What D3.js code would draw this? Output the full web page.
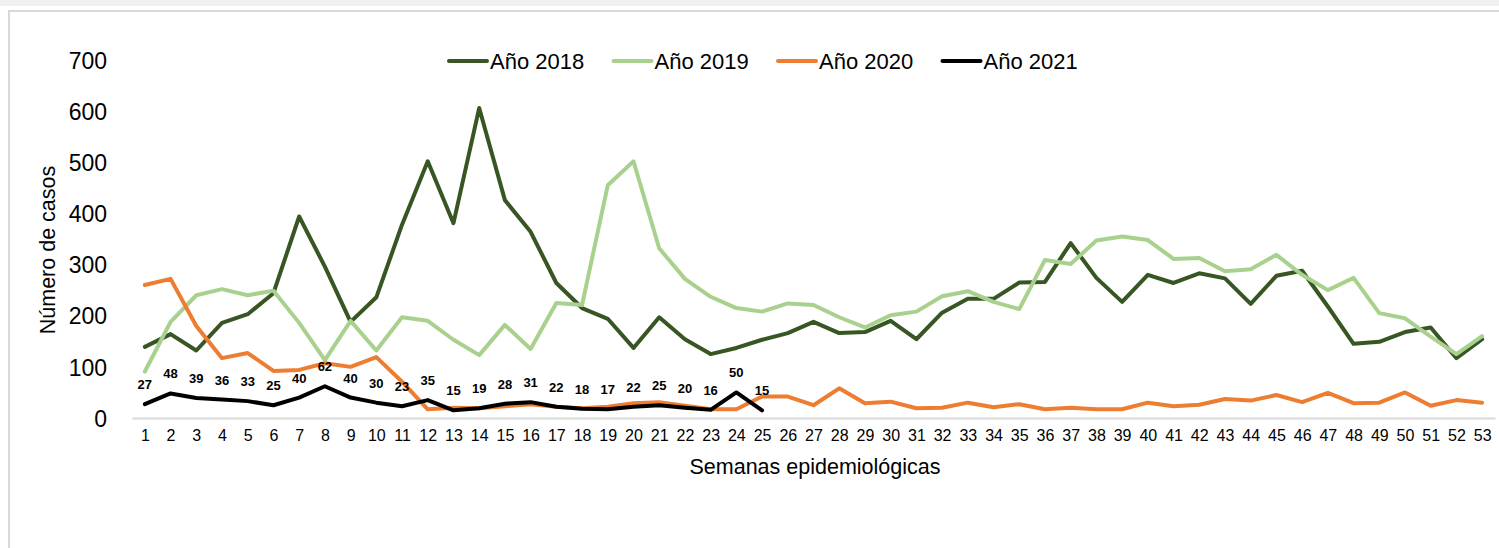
<!DOCTYPE html>
<html><head>
<meta charset="utf-8">
<title>Casos por semana epidemiológica</title>
<script src="https://d3js.org/d3.v7.min.js"></script>
<style>
  body { margin: 0; background: #fff; font-family: "Liberation Sans", Arial, sans-serif; }
  .y.axis text { font-size: 23px; fill: #000; }
  .x.axis text { font-size: 16px; fill: #000; }
  .axis .tick line { display: none; }
  .x.axis .domain { stroke: #d9d9d9; stroke-width: 2px; }
  .y.axis .domain { display: none; }
  .series { fill: none; stroke-width: 4px; stroke-linejoin: round; stroke-linecap: round; }
  .label { font-size: 13px; font-weight: bold; text-anchor: middle; fill: #000; }
  .legend text { font-size: 22px; fill: #000; }
  .title { font-size: 21.5px; fill: #000; text-anchor: middle; }
</style>
</head>
<body>
<svg id="chart" width="1499" height="548"></svg>
<script>
  // data
  const weeks = d3.range(1, 54);
  const yTicks = [0, 100, 200, 300, 400, 500, 600, 700];
  const seriesNames = ["Año 2018", "Año 2019", "Año 2020", "Año 2021"];
  const seriesColors = ["#375623", "#a9d18e", "#ed7d31", "#000000"];

  const y2018 = [139, 164, 132, 186, 203, 244, 394, 296, 188, 236, 378, 502, 381, 606, 426, 364, 264, 215, 194, 137,
                 197, 154, 125, 137, 153, 166, 188, 166, 168, 190, 154, 206, 233, 233, 265, 266, 342, 274, 227, 280,
                 264, 283, 273, 223, 278, 288, 218, 145, 149, 168, 177, 117, 154];
  const y2019 = [91, 188, 240, 252, 240, 249, 186, 113, 190, 132, 197, 190, 153, 123, 182, 135, 225, 221, 455, 502,
                 332, 272, 237, 215, 208, 224, 221, 197, 177, 201, 208, 238, 248, 227, 213, 309, 301, 347, 355, 348,
                 311, 313, 287, 291, 319, 280, 250, 274, 205, 195, 159, 125, 160];
  const y2020 = [260, 272, 180, 117, 127, 92, 94, 107, 100, 119, 71, 17, 20, 19, 23, 27, 22, 19, 22, 29,
                 31, 24, 17, 17, 42, 42, 25, 58, 29, 32, 19, 20, 30, 21, 27, 17, 20, 17, 17, 30,
                 23, 26, 37, 34, 45, 31, 49, 29, 30, 50, 24, 35, 30];
  const y2021 = [27, 48, 39, 36, 33, 25, 40, 62, 40, 30, 23, 35, 15, 19, 28, 31, 22, 18, 17, 22, 25, 20, 16, 50, 15];

  const allSeries = [y2018, y2019, y2020, y2021];

  const svg = d3.select("svg#chart");

  // page frame
  svg.append("rect").attr("x", 0).attr("y", 0).attr("width", 1499).attr("height", 6).attr("fill", "#f0f0f0");
  svg.append("path").attr("d", "M9,548 V11 H1499").attr("fill", "none")
     .attr("stroke", "#d9d9d9").attr("stroke-width", 2);

  const xScale = d3.scalePoint().domain(weeks).range([132, 1495]).padding(0.5);
  const yScale = d3.scaleLinear().domain([0, 700]).range([418, 60]);

  const yAxis = d3.axisLeft(yScale).tickValues(yTicks).tickSize(0).tickPadding(0);
  svg.append("g").attr("class", "y axis")
     .attr("transform", "translate(107,0)")
     .call(yAxis)
     .selectAll("text").attr("dy", "0.36em");

  const xAxis = d3.axisBottom(xScale).tickSize(0).tickPadding(12);
  svg.append("g").attr("class", "x axis")
     .attr("transform", "translate(0," + yScale(0) + ")")
     .call(xAxis);

  const line = d3.line()
      .x((d, i) => xScale(weeks[i]))
      .y(d => yScale(d));

  allSeries.forEach((vals, k) => {
    svg.append("path")
       .attr("class", "series")
       .attr("stroke", seriesColors[k])
       .attr("d", line(vals));
  });

  // data labels for 2021
  svg.selectAll(".label").data(y2021)
     .enter()
     .append("text")
     .attr("class", "label")
     .attr("x", (d, i) => xScale(weeks[i]))
     .attr("y", d => yScale(d) - 15)
     .text(d => d);

  // legend
  const legend = svg.append("g").attr("class", "legend");
  seriesNames.forEach((name, k) => {
    const lx = 447 + k * 164.5;
    legend.append("line")
      .attr("x1", lx + 2).attr("x2", lx + 40)
      .attr("y1", 61).attr("y2", 61)
      .attr("stroke", seriesColors[k]).attr("stroke-width", 4)
      .attr("stroke-linecap", "round");
    legend.append("text")
      .attr("x", lx + 43).attr("y", 69)
      .text(name);
  });

  // axis titles
  svg.append("text").attr("class", "title")
     .attr("transform", "translate(55,250) rotate(-90)")
     .text("Número de casos");
  svg.append("text").attr("class", "title")
     .attr("x", 815).attr("y", 474)
     .text("Semanas epidemiológicas");
</script>
</body>
</html>
